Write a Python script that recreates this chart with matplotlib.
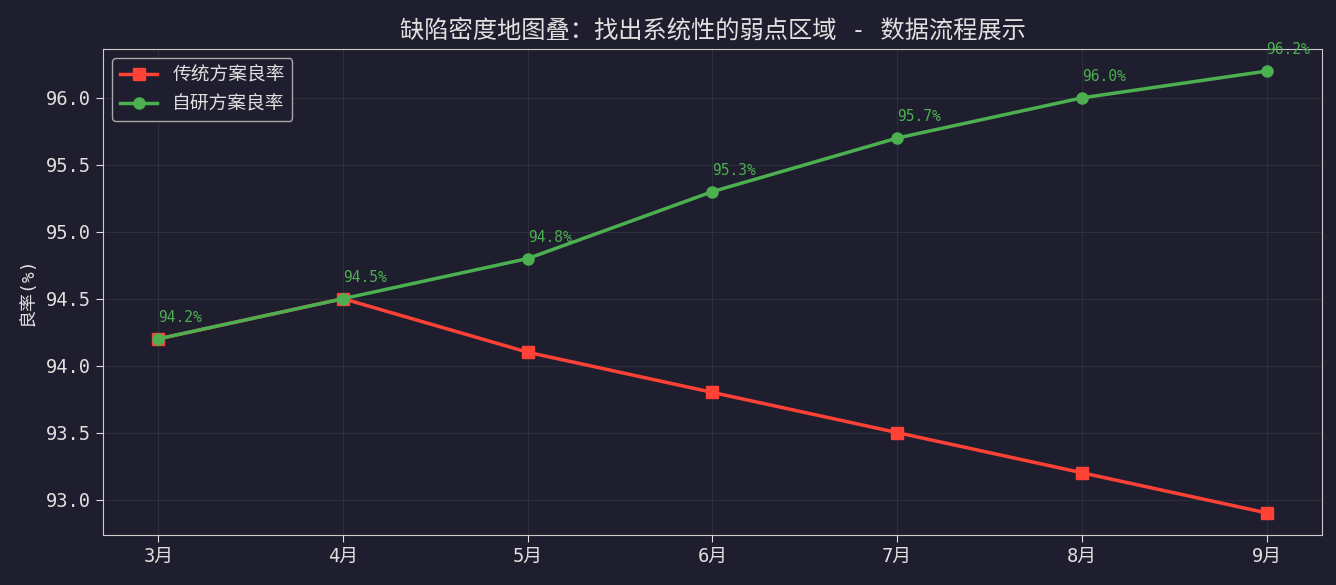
import matplotlib
matplotlib.use("Agg")
import matplotlib.pyplot as plt

months = ["3月", "4月", "5月", "6月", "7月", "8月", "9月"]
traditional = [94.2, 94.5, 94.1, 93.8, 93.5, 93.2, 92.9]
inhouse = [94.2, 94.5, 94.8, 95.3, 95.7, 96.0, 96.2]
title = "缺陷密度地图叠：找出系统性的弱点区域 - 数据流程展示"
ylabel = "良率(%)"
labels = ["传统方案良率", "自研方案良率"]

plt.rcParams['font.family'] = ['DejaVu Sans Mono', 'Noto Sans CJK SC']
bg = '#1e1e2e'
fg = '#e0e0e0'

fig, ax = plt.subplots(figsize=(13.36, 5.85), dpi=100)
fig.patch.set_facecolor(bg)
ax.set_facecolor(bg)

x = list(range(len(months)))
ax.plot(x, traditional, color='#ff4136', marker='s', lw=2.5, ms=8, label=labels[0])
ax.plot(x, inhouse, color='#4caf50', marker='o', lw=2.5, ms=8, label=labels[1])

for xi, v in zip(x, inhouse):
    ax.annotate(f"{v:.1f}%", (xi, v), xytext=(0, 10), textcoords='offset points',
                ha='left', va='bottom', color='#4caf50', fontsize=10.5, annotation_clip=False)

ax.set_xticks(x)
ax.set_xticklabels(months)
ax.set_title(title, color=fg, fontsize=17.5, pad=8)
ax.set_ylabel(ylabel, color=fg, fontsize=13, labelpad=7)
ax.tick_params(colors=fg, labelsize=13.5, length=5)
for s in ax.spines.values():
    s.set_color('#cccccc')
ax.grid(True, color='white', alpha=0.07)

leg = ax.legend(loc='upper left', fontsize=13.5, facecolor=bg, edgecolor='#aaaaaa', labelcolor=fg)
leg.get_frame().set_alpha(1)

fig.subplots_adjust(left=0.0771, right=0.9895, top=0.9162, bottom=0.0855)
fig.savefig("out.png", facecolor=bg)
